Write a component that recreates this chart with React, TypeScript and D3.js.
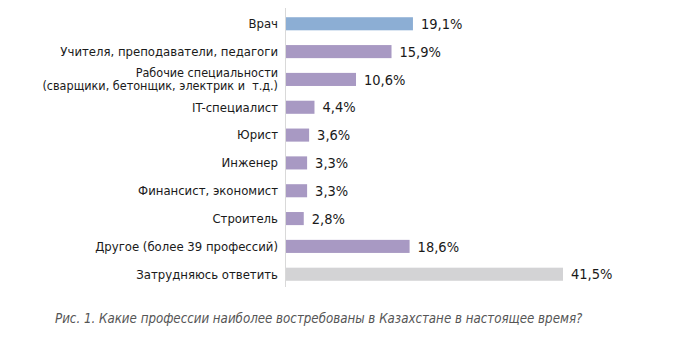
import { useRef, useEffect } from "react";
import * as d3 from "d3";

const WIDTH = 692;
const HEIGHT = 359;

const CATEGORIES = [
  ["Врач"],
  ["Учителя, преподаватели, педагоги"],
  ["Рабочие специальности", "(сварщики, бетонщик, электрик и  т.д.)"],
  ["IT-специалист"],
  ["Юрист"],
  ["Инженер"],
  ["Финансист, экономист"],
  ["Строитель"],
  ["Другое (более 39 профессий)"],
  ["Затрудняюсь ответить"],
];
const VALUES = [19.1, 15.9, 10.6, 4.4, 3.6, 3.3, 3.3, 2.8, 18.6, 41.5];
const KINDS = ["top", "main", "main", "main", "main", "main", "main", "main", "main", "none"];
const CAPTION = "Рис. 1. Какие профессии наиболее востребованы в Казахстане в настоящее время?";

const COLORS: Record<string, string> = { top: "#8caed4", main: "#a899c3", none: "#d3d3d5" };
const FONT = "'DejaVu Sans Condensed', 'DejaVu Sans', sans-serif";

export default function App() {
  const svgRef = useRef<SVGSVGElement>(null);

  useEffect(() => {
    const svg = d3.select(svgRef.current);
    svg.selectAll("*").remove();

    const x0 = 285;
    const x = d3.scaleLinear().domain([0, 41.5]).range([x0, 563]);
    const idx = d3.range(VALUES.length).map(String);
    const y = d3.scaleBand().domain(idx).range([10, 288]).paddingInner(0.53).paddingOuter(0.26);

    // axis line
    svg.append("line")
      .attr("x1", x0 + 0.5).attr("x2", x0 + 0.5)
      .attr("y1", 8).attr("y2", 287)
      .attr("stroke", "#d9d9d9").attr("stroke-width", 1);

    const rows = svg.selectAll("g.row")
      .data(VALUES)
      .enter()
      .append("g")
      .attr("class", "row");

    rows.append("rect")
      .attr("x", x0 + 1)
      .attr("y", (_d, i) => y(String(i))!)
      .attr("width", (d) => x(d) - x0 - 1)
      .attr("height", y.bandwidth())
      .attr("fill", (_d, i) => COLORS[KINDS[i]]);

    rows.append("text")
      .attr("x", (d) => x(d) + 8)
      .attr("y", (_d, i) => y(String(i))! + y.bandwidth() / 2)
      .attr("dy", "0.36em")
      .attr("font-family", FONT)
      .attr("font-size", 14.5)
      .attr("fill", "#1a1a1a")
      .text((d) => d.toFixed(1).replace(".", ",") + "%");

    rows.each(function (_d, i) {
      const lines = CATEGORIES[i];
      const cy = y(String(i))! + y.bandwidth() / 2;
      const lh = 13.5;
      const t = d3.select(this).append("text")
        .attr("text-anchor", "end")
        .attr("font-family", FONT)
        .attr("font-size", lines.length > 1 ? 12.5 : 13)
        .attr("fill", "#1a1a1a")
        .style("white-space", "pre");
      lines.forEach((l, k) => {
        t.append("tspan")
          .attr("x", 278)
          .attr("y", cy + (k - (lines.length - 1) / 2) * lh)
          .attr("dy", "0.33em")
          .text(l);
      });
    });

    svg.append("text")
      .attr("x", 55)
      .attr("y", 323)
      .attr("font-family", FONT)
      .attr("font-size", 13.2)
      .attr("font-style", "italic")
      .attr("fill", "#555")
      .text(CAPTION);
  }, []);

  return (
    <svg
      ref={svgRef}
      width={WIDTH}
      height={HEIGHT}
      viewBox={`0 0 ${WIDTH} ${HEIGHT}`}
      style={{ position: "absolute", left: 0, top: 0, background: "#fff" }}
    />
  );
}
